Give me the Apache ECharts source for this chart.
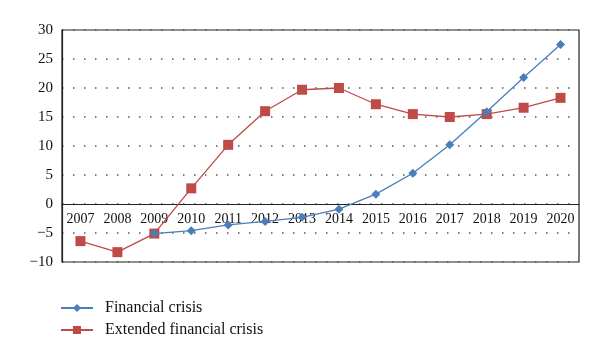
<!DOCTYPE html>
<html><head><meta charset="utf-8">
<script src="https://cdn.jsdelivr.net/npm/echarts@6/dist/echarts.min.js"></script>
<style>html,body{margin:0;padding:0;background:#fff}#c{width:600px;height:362px}</style>
</head><body><div id="c"></div>
<script>
var years = ['2007','2008','2009','2010','2011','2012','2013','2014','2015','2016','2017','2018','2019','2020'];
var financialCrisis = [null, null, -5.1, -4.6, -3.6, -3.0, -2.3, -0.9, 1.7, 5.3, 10.2, 15.9, 21.8, 27.5];
var extendedCrisis = [-6.4, -8.3, -5.1, 2.7, 10.2, 16.0, 19.7, 20.0, 17.2, 15.5, 15.0, 15.5, 16.6, 18.3];
var seriesNames = ['Financial crisis', 'Extended financial crisis'];

var font = '"Liberation Serif", "DejaVu Serif", serif';
var chart = echarts.init(document.getElementById('c'));
chart.setOption({
  animation: false,
  grid: {left: 62, right: 21, top: 30, bottom: 100, show: true, borderColor: '#222', borderWidth: 1.2, backgroundColor: 'transparent'},
  xAxis: {
    type: 'category', data: years, boundaryGap: true, position: 'bottom', offset: -58,
    axisLine: {onZero: false, lineStyle: {color: '#222', width: 1.2}},
    axisTick: {inside: true, length: 3, lineStyle: {color: '#222'}},
    axisLabel: {color: '#111', fontFamily: font, fontSize: 14, margin: 8}
  },
  yAxis: {
    type: 'value', min: -10, max: 30, interval: 5,
    axisLine: {show: true, lineStyle: {color: '#222', width: 1.2}},
    axisTick: {show: false},
    axisLabel: {color: '#111', fontFamily: font, fontSize: 15, margin: 9,
      formatter: function (v) { return String(v).replace('-', '\u2212'); }},
    splitLine: {show: true, lineStyle: {color: '#555', type: [1.5, 9.5], width: 1.5}}
  },
  legend: {
    orient: 'vertical', left: 55, top: 295, itemGap: 6, itemWidth: 32, itemHeight: 10,
    textStyle: {fontFamily: font, fontSize: 16, color: '#111', padding: [0,0,0,7]},
    data: seriesNames
  },
  series: [
    {name: seriesNames[0], type: 'line', data: financialCrisis, symbol: 'diamond', symbolSize: 9,
      itemStyle: {color: '#4a7ebb'}, lineStyle: {color: '#4a7ebb', width: 1.3}, connectNulls: false, z: 3},
    {name: seriesNames[1], type: 'line', data: extendedCrisis, symbol: 'rect', symbolSize: 10,
      itemStyle: {color: '#be4b48'}, lineStyle: {color: '#be4b48', width: 1.3}, z: 2}
  ]
});
</script></body></html>
